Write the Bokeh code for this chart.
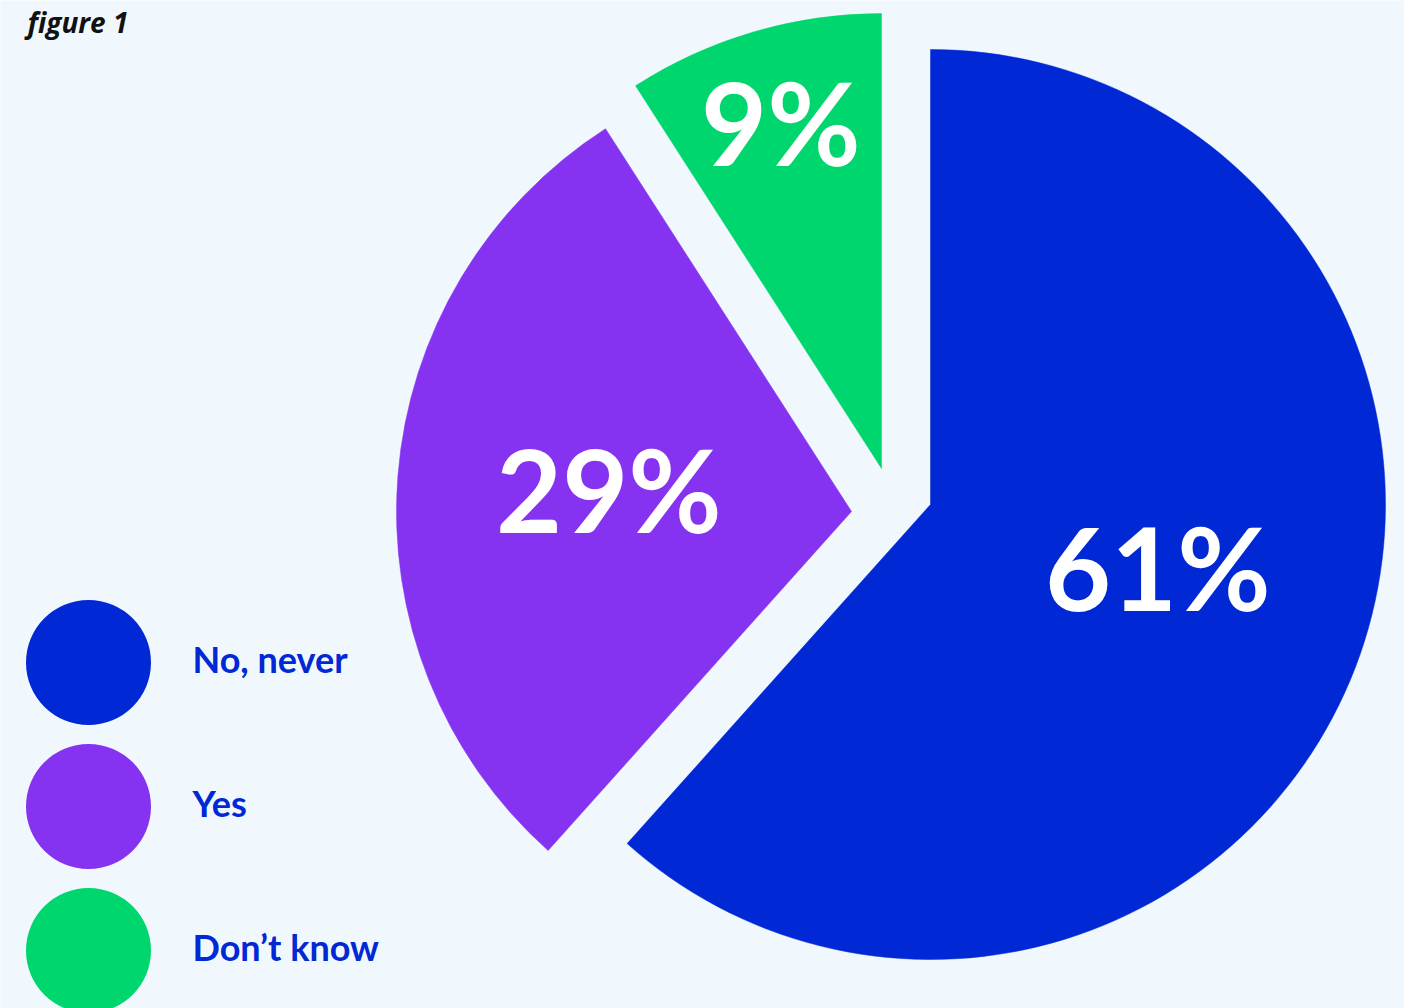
import numpy as np
from bokeh.plotting import figure
from bokeh.models import Range1d
from bokeh.core.properties import value
from bokeh.embed import file_html
from bokeh.resources import INLINE

# ---- data ----
categories = ["No, never", "Yes", "Don\u2019t know"]
values = [61, 29, 9]
labels = ["61%", "29%", "9%"]
colors = ["#0028d4", "#8533f0", "#00d66e"]

# ---- layout / style ----
W, H = 1404, 1008
BG = "#f1f8fd"
TEXT_BLUE = "#0028d4"
R = 455
PIE_CX, PIE_CY = 930, H - 504
# per-slice displacement (explode) in pixels, y up
offsets = [(0, 0), (-79, -7), (-49, 36)]
label_k = [0.52, 0.535, 0.785]
label_dtheta = [-4.8, 0.0, 0.0]  # degrees, clockwise
LABEL_FONT = "Lato"

p = figure(width=W, height=H, x_range=Range1d(0, W), y_range=Range1d(0, H),
           output_backend="svg", toolbar_location=None, min_border=0)
p.axis.visible = False
p.grid.visible = False
p.outline_line_color = None
p.background_fill_color = BG
p.border_fill_color = BG

total = float(sum(values))
cum = np.concatenate([[0.0], np.cumsum(values)]) / total * 2 * np.pi  # clockwise from 12 o'clock

for i, (v, col) in enumerate(zip(values, colors)):
    t0, t1 = cum[i], cum[i + 1]
    cx = PIE_CX + offsets[i][0]
    cy = PIE_CY + offsets[i][1]
    p.wedge(x=cx, y=cy, radius=R, start_angle=np.pi / 2 - t0, end_angle=np.pi / 2 - t1,
            direction="clock", fill_color=col, line_color=col, line_width=0.5)
    tm = (t0 + t1) / 2 + np.radians(label_dtheta[i])
    lx = cx + label_k[i] * R * np.sin(tm)
    ly = cy + label_k[i] * R * np.cos(tm)
    p.text(x=[lx], y=[ly + 4], text=[labels[i]], text_color="white",
           text_font=value(LABEL_FONT), text_font_style="bold", text_font_size="114px",
           text_align="center", text_baseline="middle")

# ---- legend ----
for i, (cat, col) in enumerate(zip(categories, colors)):
    yy = H - (662 + 144 * i)
    p.circle(x=[88], y=[yy], radius=62.5, fill_color=col, line_color=None)
    p.text(x=[192], y=[yy + 4], text=[cat], text_color=TEXT_BLUE,
           text_font=value("Lato"), text_font_style="bold", text_font_size="36px",
           text_align="left", text_baseline="middle")

# ---- title ----
p.text(x=[27], y=[H - 21], text=["figure 1"], text_color="#111111",
       text_font=value("Open Sans"), text_font_style="bold italic", text_font_size="28px",
       text_align="left", text_baseline="middle")

open("out.html", "w").write(file_html(p, INLINE))
